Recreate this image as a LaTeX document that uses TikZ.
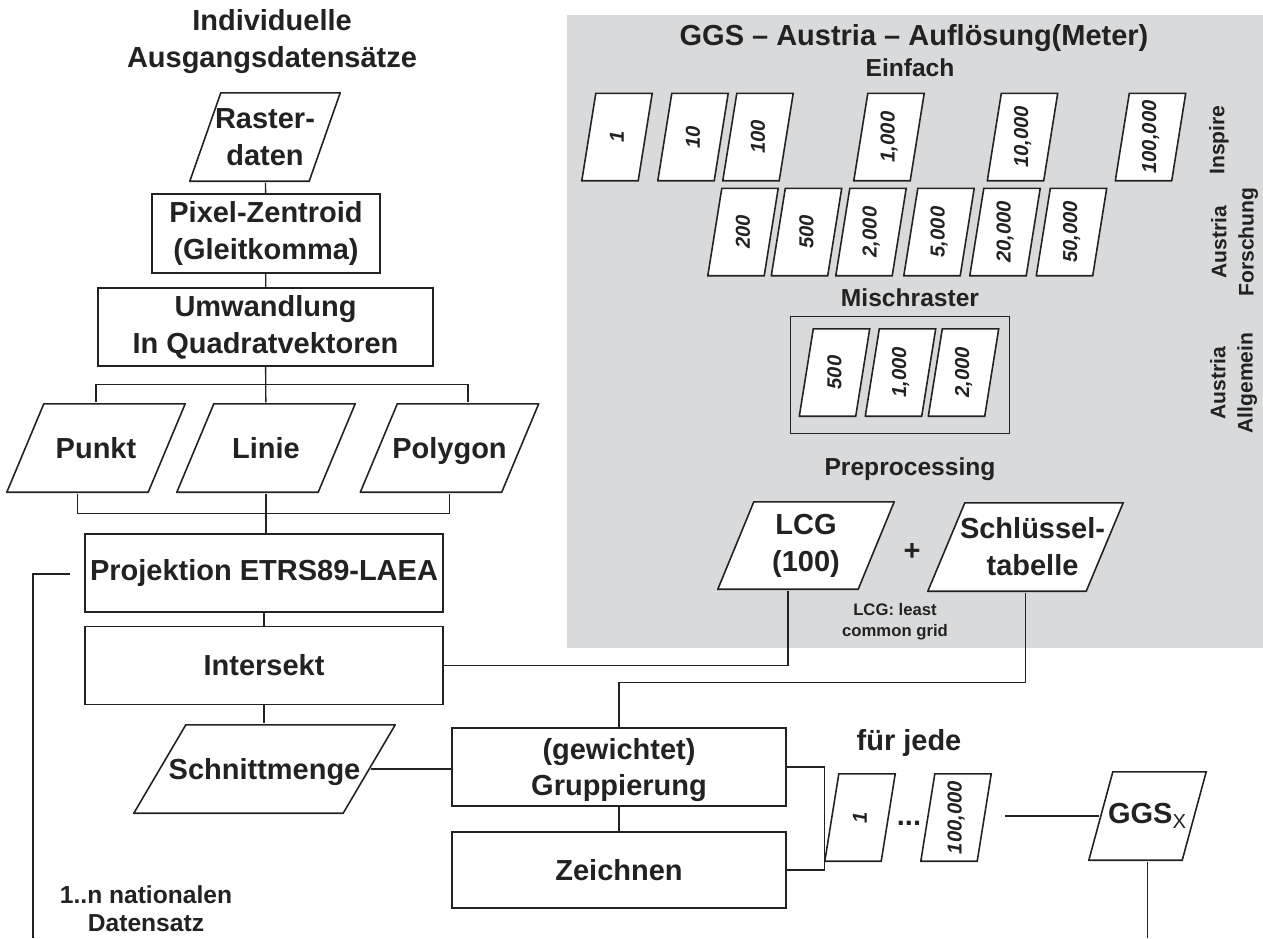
\documentclass[tikz,border=0pt]{standalone}
\usepackage{fontspec}
\usepackage{graphicx}
\setmainfont{Liberation Sans}
\usetikzlibrary{positioning}

\definecolor{ink}{RGB}{34,34,34}
\definecolor{panel}{RGB}{217,218,220}
\newcommand\bigtxt{\fontsize{16.5}{21}\selectfont\bfseries}
\newcommand\midtxt{\fontsize{14}{16}\selectfont\bfseries}
\newcommand\numtxt{\fontsize{11.5}{13}\selectfont\bfseries\itshape}
\newcommand\sidetxt{\fontsize{12}{15.5}\selectfont\bfseries}
\newcommand\notetxt{\fontsize{9.5}{12}\selectfont\bfseries}

\begin{document}
\begin{tikzpicture}[x=0.02cm, y=-0.02cm, color=ink, line width=0.8pt,
		block/.style={rectangle, draw, line width=0.9pt, fill=white, align=center,
			inner sep=2pt, font=\bigtxt, minimum width=7.16cm, minimum height=1.56cm},
		% parallelogram, #1 = slant in cm
		datbox/.style={rectangle, inner sep=0pt, align=center, font=\bigtxt,
			minimum height=1.8cm,
			path picture={\draw[line width=0.9pt, fill=white]
				([xshift=0.45pt, yshift=0.45pt]path picture bounding box.south west) --
				([xshift=-#1cm-0.45pt, yshift=0.45pt]path picture bounding box.south east) --
				([xshift=-0.45pt, yshift=-0.45pt]path picture bounding box.north east) --
				([xshift=#1cm+0.45pt, yshift=-0.45pt]path picture bounding box.north west) -- cycle;}},
		numbox/.style={datbox=0.28, minimum width=1.44cm, minimum height=1.78cm,
			font=\numtxt},
		heading/.style={font=\midtxt, align=center}
		]
		\useasboundingbox (0,0) rectangle (1263,938);
		% grey panel behind the resolutions
		\fill[panel] (567,15) rectangle (1263,648);
		
		% left column
		\node[font=\bigtxt, align=center](src) at (272,41.5){Individuelle\\Ausgangsdatensätze};
		\node[datbox=0.62, minimum width=3.04cm](raster) at (265,137){Raster-\\daten};
		\node[block, minimum width=4.56cm, minimum height=1.58cm](pix) at (266,233.5){Pixel-Zentroid\\(Gleitkomma)};
		\node[block, minimum width=6.7cm](umw) at (265.5,327){Umwandlung\\In Quadratvektoren};
		\node[datbox=0.74, minimum width=3.6cm](punkt) at (96,448){Punkt};
		\node[datbox=0.74, minimum width=3.6cm](linie) at (266,448){Linie};
		\node[datbox=0.74, minimum width=3.6cm, text depth=0pt](poly) at (449.5,448){Polygon};
		\node[block](proj) at (264,573){Projektion ETRS89-LAEA};
		\node[block](inter) at (264,665.5){Intersekt};
		\node[datbox=1.04, minimum width=5.26cm, text depth=0pt](schnitt) at (264.5,769){Schnittmenge};
		\node[block, minimum width=6.68cm, text depth=0pt](grp) at (619,767){(gewichtet)\\Gruppierung};
		\node[block, minimum width=6.68cm, minimum height=1.52cm](zeich) at (619,870){Zeichnen};
		\node[heading](natl) at (146,909){1..n nationalen\\Datensatz};
		
		% resolutions
		\node[font=\bigtxt](ggstitle) at (914,38){GGS -- Austria -- Auflösung(Meter)};
		\node[heading](einfach) at (910,68){Einfach};
		\foreach \val/\xx [count=\i] in {1/617, 10/693, 100/758, {1,000}/889, {10,000}/1022.5, {100,000}/1150.5}
			\node[numbox](ins\i) at (\xx,137){\rotatebox{90}{\val}};
		\foreach \val/\xx [count=\i] in {200/743, 500/806.5, {2,000}/871, {5,000}/939, {20,000}/1005, {50,000}/1071.5}
			\node[numbox](fo\i) at (\xx,232){\rotatebox{90}{\val}};
		\node[heading](misch) at (910,298){Mischraster};
		\node[draw, line width=0.5pt, inner sep=0pt, minimum width=4.38cm, minimum height=2.34cm](mixframe) at (899.5,374.5){};
		\foreach \val/\xx [count=\i] in {500/834.5, {1,000}/900.5, {2,000}/963.5}
			\node[numbox](mix\i) at (\xx,372.5){\rotatebox{90}{\val}};
		\node[font=\sidetxt, rotate=90](inspire) at (1219,140){Inspire};
		\node[font=\sidetxt, rotate=90, align=center](forsch) at (1234.5,242){Austria\\Forschung};
		\node[font=\sidetxt, rotate=90, align=center](allg) at (1233.5,383){Austria\\Allgemein};
		
		% preprocessing
		\node[heading](prep) at (910,469){Preprocessing};
		\node[datbox=0.72, minimum width=3.56cm, minimum height=1.78cm](lcg) at (806,545.5){LCG\\(100)};
		\node[font=\bigtxt](plus) at (912,552){+};
		\node[datbox=0.74, minimum width=3.94cm](key) at (1025.5,547){\hspace*{8pt}Schlüssel-\\\hspace*{8pt}tabelle};
		\node[font=\notetxt, align=center](lcgnote) at (895,622){LCG: least\\common grid};
		
		% output
		\node[font=\bigtxt](fuer) at (909,743){für jede};
		\node[numbox](res1) at (860,817.5){\rotatebox{90}{1}};
		\node[font=\bigtxt](dots) at (909,823){...};
		\node[numbox](resN) at (956,817.5){\rotatebox{90}{100,000}};
		\node[datbox=0.48, minimum width=2.38cm](ggs) at (1147.5,816){GGS\textsubscript{\mdseries X}};
		
		\coordinate (ggsin) at (1005,816);
		\coordinate (projin) at (70,574);
		\coordinate (loopend) at (33,938);
		
		\draw (raster) -- (pix);
		\draw (pix) -- (umw);
		\draw (umw) -- (linie);
		\draw (punkt.north) -- ++(0,-18) -| ([xshift=0.37cm]poly.north);
		\draw ([xshift=-0.37cm]punkt.south) -- ++(0,20) -| (poly.south);
		\draw (linie.south) -- (linie.south |- proj.north);
		\draw (proj) -- (inter);
		\draw (inter.south) -- (inter.south |- schnitt.north);
		\draw ([xshift=-0.52cm]schnitt.east) -- (schnitt.east -| grp.west);
		\draw (grp) -- (zeich);
		\draw (grp.east) -- ++(38,0) |- (zeich.east);
		\draw ([xshift=-0.36cm]lcg.south) |- (inter.east);
		\draw (grp.north) -- ++(0,-45) -| (key.south);
		\draw (ggsin) -- ([xshift=0.24cm]ggs.west);
		\draw (ggs.south) -- (ggs.south |- loopend);
		\draw (projin) -| (loopend);
	\end{tikzpicture}
\end{document}
